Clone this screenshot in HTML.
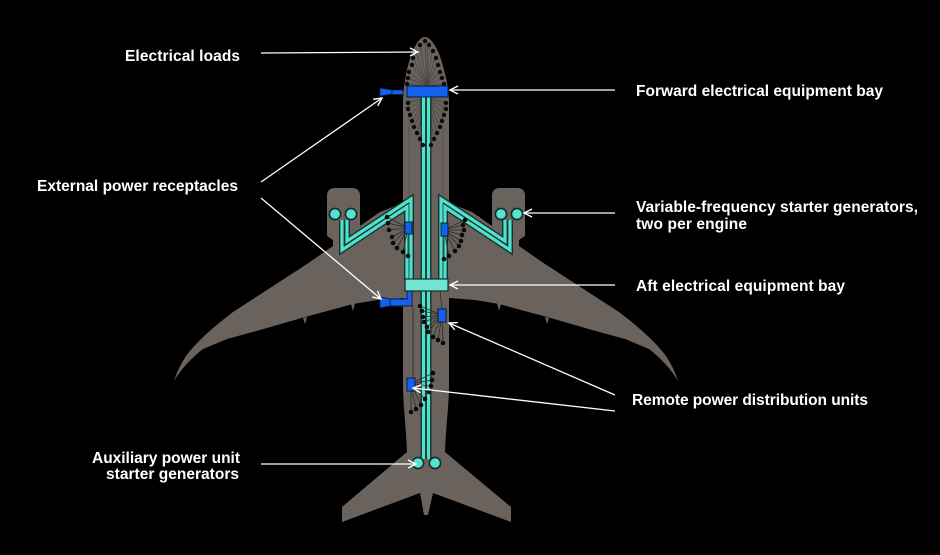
<!DOCTYPE html>
<html>
<head>
<meta charset="utf-8">
<style>
  html, body { margin: 0; padding: 0; background: #000; }
  body { width: 940px; height: 555px; overflow: hidden; }
  svg { display: block; }
  .lbl { font-family: "Liberation Sans", Arial, sans-serif; font-weight: bold; font-size: 15.5px; fill: #ffffff; }
</style>
</head>
<body>
<svg width="940" height="555" viewBox="0 0 940 555" xmlns="http://www.w3.org/2000/svg">
  <defs>
    <marker id="ah" markerUnits="userSpaceOnUse" markerWidth="12" markerHeight="12" refX="9" refY="5" orient="auto">
      <path d="M1,1 L9,5 L1,9" fill="none" stroke="#ffffff" stroke-width="1.4"/>
    </marker>
  </defs>
  <rect x="0" y="0" width="940" height="555" fill="#000"/>

  <!-- Wings -->
  <path d="M403,203 L380,212 L360,226 L333,246 L307,264 Q270,288 233,312 Q200,337 186,356 Q178,368 174,381 Q184,364 203,349 L227,339 L260,330 L305,317 L353,304 L377,300 L403,298 Z" fill="#6a635d"/>
  <path d="M449,203 L472,212 L492,226 L519,246 L545,264 Q582,288 619,312 Q652,337 666,356 Q674,368 678,381 Q668,364 649,349 L625,339 L592,330 L547,317 L499,304 L475,300 L449,298 Z" fill="#6a635d"/>
  <!-- flap fairings -->
  <path d="M351,304 L353,311 L355,303 Z M303,318 L305,324 L307,317 Z M497,303 L499,311 L501,304 Z M545,317 L547,324 L549,318 Z" fill="#6a635d"/>

  <!-- Nacelles -->
  <path d="M327,196 Q327,188 335,188 L352,188 Q360,188 360,196 L360,232 L340,252 L333,252 L333,240 L327,236 Z" fill="#6a635d"/>
  <path d="M525,196 Q525,188 517,188 L500,188 Q492,188 492,196 L492,232 L512,252 L519,252 L519,240 L525,236 Z" fill="#6a635d"/>

  <!-- Fuselage -->
  <path d="M425,37 C432,37 440,52 444,70 C448,84 449,95 449,105 L449,385 C449,405 446,425 445,452 L511,507 L511,522 L433,493 L428,515 L424,515 L420,493 L342,522 L342,507 L407,452 C406,425 403,405 403,385 L403,105 C403,95 404,84 407,70 C411,52 418,37 425,37 Z" fill="#6a635d"/>
  <!-- subtle cabin lines -->
  <path d="M409,100 L409,200 M443,100 L443,200" stroke="#5c5651" stroke-width="1.2" fill="none"/>

  <!-- Nose load wiring fan -->
  <g stroke="#4a4441" stroke-width="0.7" fill="none">
    <path d="M427,86 L425,41 M427,86 L420,45 M427,86 L416,52 M427,86 L413,58 M427,86 L412,65 M427,86 L409,72 M427,86 L408,78 M427,86 L407,84
             M427,86 L428,45 M427,86 L432,51 M427,86 L435,58 M427,86 L437,65 M427,86 L439,72 M427,86 L441,78 M427,86 L443,84"/>
    <path d="M427,97 L408,103 M427,97 L408,109 M427,97 L410,115 M427,97 L412,121 M427,97 L414,127 M427,97 L417,133 M427,97 L420,139 M427,97 L423,145
             M427,97 L446,103 M427,97 L446,109 M427,97 L444,115 M427,97 L442,121 M427,97 L440,127 M427,97 L437,133 M427,97 L434,139 M427,97 L431,145"/>
  </g>

  <!-- Cyan feeders: dark outlines -->
  <g stroke="#17302c" stroke-width="6" fill="none" stroke-linejoin="miter">
    <path d="M342,220 L342,250 L407,207 L407,280"/>
    <path d="M347,220 L347,241 L411,199 L411,280"/>
    <path d="M510,220 L510,250 L445,207 L445,280"/>
    <path d="M505,220 L505,241 L441,199 L441,280"/>
    <path d="M423.5,97 L423.5,459"/>
    <path d="M428.5,97 L428.5,459"/>
  </g>
  <g stroke="#50e2cc" stroke-width="3.2" fill="none" stroke-linejoin="miter">
    <path d="M342,220 L342,250 L407,207 L407,280"/>
    <path d="M347,220 L347,241 L411,199 L411,280"/>
    <path d="M510,220 L510,250 L445,207 L445,280"/>
    <path d="M505,220 L505,241 L441,199 L441,280"/>
    <path d="M423.5,97 L423.5,459"/>
    <path d="M428.5,97 L428.5,459"/>
  </g>

  <!-- Nose dots -->
  <g fill="#0a0a0a">
    <circle cx="425" cy="41" r="2.2"/>
    <circle cx="420" cy="45" r="2.2"/><circle cx="416" cy="52" r="2.2"/><circle cx="413" cy="58" r="2.2"/><circle cx="412" cy="65" r="2.2"/><circle cx="409" cy="72" r="2.2"/><circle cx="408" cy="78" r="2.2"/><circle cx="407" cy="84" r="2.2"/>
    <circle cx="429" cy="45" r="2.2"/><circle cx="433" cy="51" r="2.2"/><circle cx="436" cy="58" r="2.2"/><circle cx="438" cy="65" r="2.2"/><circle cx="440" cy="72" r="2.2"/><circle cx="442" cy="78" r="2.2"/><circle cx="444" cy="84" r="2.2"/>
    <circle cx="408" cy="103" r="2.2"/><circle cx="408" cy="109" r="2.2"/><circle cx="410" cy="115" r="2.2"/><circle cx="412" cy="121" r="2.2"/><circle cx="414" cy="127" r="2.2"/><circle cx="417" cy="133" r="2.2"/><circle cx="420" cy="139" r="2.2"/><circle cx="423" cy="145" r="2.2"/>
    <circle cx="446" cy="103" r="2.2"/><circle cx="446" cy="109" r="2.2"/><circle cx="444" cy="115" r="2.2"/><circle cx="442" cy="121" r="2.2"/><circle cx="440" cy="127" r="2.2"/><circle cx="437" cy="133" r="2.2"/><circle cx="434" cy="139" r="2.2"/><circle cx="431" cy="145" r="2.2"/>
  </g>

  <!-- RPDU fans -->
  <g stroke="#2f2b29" stroke-width="0.8" fill="none">
    <path d="M408,228 L387,217 M408,228 L388,223 M408,228 L389,230 M408,228 L392,237 M408,228 L393,243 M408,228 L397,248 M408,228 L403,252 M408,228 L408,256"/>
    <path d="M444,230 L465,220 M444,230 L463,225 M444,230 L464,230 M444,230 L462,235 M444,230 L461,241 M444,230 L459,246 M444,230 L455,251 M444,230 L449,256 M444,230 L444,259"/>
    <path d="M442,315 L420,306 M442,315 L422,311 M442,315 L423,317 M442,315 L424,322 M442,315 L427,327 M442,315 L428,332 M442,315 L433,337 M442,315 L438,340 M442,315 L443,343 M442,309 L440,291"/>
    <path d="M411,384 L433,373 M411,384 L432,380 M411,384 L431,386 M411,384 L429,392 M411,384 L425,399 M411,384 L421,405 M411,384 L416,409 M411,384 L411,412 M413,306 L413,378"/>
  </g>
  <g fill="#0a0a0a">
    <circle cx="387" cy="217" r="2.3"/><circle cx="388" cy="223" r="2.3"/><circle cx="389" cy="230" r="2.3"/><circle cx="392" cy="237" r="2.3"/><circle cx="393" cy="243" r="2.3"/><circle cx="397" cy="248" r="2.3"/><circle cx="403" cy="252" r="2.3"/><circle cx="408" cy="256" r="2.3"/>
    <circle cx="465" cy="220" r="2.3"/><circle cx="463" cy="225" r="2.3"/><circle cx="464" cy="230" r="2.3"/><circle cx="462" cy="235" r="2.3"/><circle cx="461" cy="241" r="2.3"/><circle cx="459" cy="246" r="2.3"/><circle cx="455" cy="251" r="2.3"/><circle cx="449" cy="256" r="2.3"/><circle cx="444" cy="259" r="2.3"/>
    <circle cx="420" cy="306" r="2.3"/><circle cx="422" cy="311" r="2.3"/><circle cx="423" cy="317" r="2.3"/><circle cx="424" cy="322" r="2.3"/><circle cx="427" cy="327" r="2.3"/><circle cx="428" cy="332" r="2.3"/><circle cx="433" cy="337" r="2.3"/><circle cx="438" cy="340" r="2.3"/><circle cx="443" cy="343" r="2.3"/>
    <circle cx="433" cy="373" r="2.3"/><circle cx="432" cy="380" r="2.3"/><circle cx="431" cy="386" r="2.3"/><circle cx="429" cy="392" r="2.3"/><circle cx="425" cy="399" r="2.3"/><circle cx="421" cy="405" r="2.3"/><circle cx="416" cy="409" r="2.3"/><circle cx="411" cy="412" r="2.3"/>
  </g>

  <!-- Forward bay + receptacle -->
  <rect x="407" y="86" width="41" height="11" fill="#1461f0" stroke="#0c1a3a" stroke-width="1"/>
  <path d="M380,88 L392,90 L392,94 L380,96 Z" fill="#1461f0" stroke="#0c1a3a" stroke-width="0.8"/>
  <rect x="392" y="90" width="11" height="4.5" fill="#1461f0" stroke="#0c1a3a" stroke-width="0.8"/>

  <!-- Aft bay + receptacle -->
  <path d="M407,291 L412,291 L412,306 L390,306 L390,299 L407,299 Z" fill="#1461f0" stroke="#0c1a3a" stroke-width="0.9"/>
  <path d="M380,297 L390,299 L390,306 L380,308 Z" fill="#1461f0" stroke="#0c1a3a" stroke-width="0.8"/>
  <rect x="405" y="279" width="43" height="12" fill="#6fe5d2" stroke="#1b2b29" stroke-width="1.2"/>

  <!-- RPDUs -->
  <rect x="405" y="222" width="7" height="12" fill="#1461f0" stroke="#0c1a3a" stroke-width="1"/>
  <rect x="441" y="223" width="7" height="13" fill="#1461f0" stroke="#0c1a3a" stroke-width="1"/>
  <rect x="438" y="309" width="8" height="13" fill="#1461f0" stroke="#0c1a3a" stroke-width="1"/>
  <rect x="407" y="378" width="8" height="13" fill="#1461f0" stroke="#0c1a3a" stroke-width="1"/>

  <!-- Generators -->
  <g fill="#55e3cf" stroke="#152a27" stroke-width="1.6">
    <circle cx="335" cy="214" r="5.6"/><circle cx="351" cy="214" r="5.6"/>
    <circle cx="501" cy="214" r="5.6"/><circle cx="517" cy="214" r="5.6"/>
    <circle cx="418" cy="463" r="5.6"/><circle cx="435" cy="463" r="5.6"/>
  </g>

  <!-- Arrows -->
  <g stroke="#ffffff" stroke-width="1.3" fill="none" marker-end="url(#ah)">
    <line x1="261" y1="53" x2="418" y2="52"/>
    <line x1="615" y1="90" x2="450" y2="90"/>
    <line x1="261" y1="182" x2="382" y2="98"/>
    <line x1="261" y1="198" x2="381" y2="299"/>
    <line x1="615" y1="213" x2="524" y2="213"/>
    <line x1="615" y1="285" x2="450" y2="285"/>
    <line x1="615" y1="395" x2="449" y2="323"/>
    <line x1="615" y1="411" x2="413" y2="388"/>
    <line x1="261" y1="464" x2="416" y2="464"/>
  </g>

  <!-- Labels -->
  <text class="lbl" x="125" y="61" textLength="115" lengthAdjust="spacing">Electrical loads</text>
  <text class="lbl" x="37" y="191" textLength="201" lengthAdjust="spacing">External power receptacles</text>
  <text class="lbl" x="636" y="96" textLength="247" lengthAdjust="spacing">Forward electrical equipment bay</text>
  <text class="lbl" x="636" y="212" textLength="282" lengthAdjust="spacing">Variable-frequency starter generators,</text>
  <text class="lbl" x="636" y="229" textLength="111" lengthAdjust="spacing">two per engine</text>
  <text class="lbl" x="636" y="291" textLength="209" lengthAdjust="spacing">Aft electrical equipment bay</text>
  <text class="lbl" x="632" y="405" textLength="236" lengthAdjust="spacing">Remote power distribution units</text>
  <text class="lbl" x="92" y="463" textLength="148" lengthAdjust="spacing">Auxiliary power unit</text>
  <text class="lbl" x="106" y="479" textLength="133" lengthAdjust="spacing">starter generators</text>
</svg>
</body>
</html>
